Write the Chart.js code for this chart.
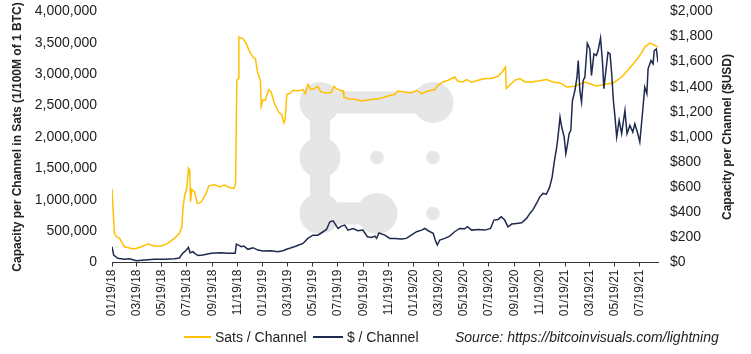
<!DOCTYPE html>
<html>
<head>
<meta charset="utf-8">
<script src="https://cdn.jsdelivr.net/npm/chart.js@4.4.0/dist/chart.umd.min.js"></script>
<style>
  html, body { margin: 0; padding: 0; background: #fff; }
  #wrap { position: relative; width: 751px; height: 354px; font-family: 'Liberation Sans', Arial, sans-serif; color: #222; overflow: hidden; }
  #chart { position: absolute; left: 0; top: 0; }
  .ytitle { position: absolute; width: 400px; height: 14px; line-height: 14px; font-size: 12px; font-weight: bold; text-align: center; white-space: nowrap; transform: rotate(-90deg); }
  .leg { position: absolute; top: 329px; height: 16px; line-height: 16px; font-size: 14px; white-space: nowrap; }
  .swatch { display: inline-block; vertical-align: middle; height: 2px; margin-top: -2px; }
</style>
</head>
<body>
<div id="wrap">
  <canvas id="chart" width="751" height="354"></canvas>
  <div class="ytitle" style="left:-183px; top:130px;">Capacity per Channel in Sats (1/100M of 1 BTC)</div>
  <div class="ytitle" style="left:527px; top:130px;">Capacity per Channel ($USD)</div>
  <div class="leg" style="left:184px;"><span class="swatch" style="width:27px; background:#FFC000;"></span> Sats / Channel</div>
  <div class="leg" style="left:313px;"><span class="swatch" style="width:30px; background:#1E2A4E;"></span> $ / Channel</div>
  <div class="leg" style="left:455px; font-style:italic;">Source: https://bitcoinvisuals.com/lightning</div>
</div>
<script>
// ── DATA ──────────────────────────────────
// x = days since 01/19/18
const tickLabels = ['01/19/18', '03/19/18', '05/19/18', '07/19/18', '09/19/18', '11/19/18',
  '01/19/19', '03/19/19', '05/19/19', '07/19/19', '09/19/19', '11/19/19',
  '01/19/20', '03/19/20', '05/19/20', '07/19/20', '09/19/20', '11/19/20',
  '01/19/21', '03/19/21', '05/19/21', '07/19/21'];

const satsDays = [0, 4, 6, 10, 18, 30, 42, 54, 71, 87, 103, 119, 135, 151, 163, 169, 172, 176, 181, 185,
  188, 190, 193, 200, 206, 212, 216, 228, 234, 248, 260, 272, 285, 295, 299, 302, 305, 307, 317, 325,
  333, 341, 347, 352, 359, 361, 365, 371, 379, 385, 393, 403, 411, 416, 419, 423, 430, 438, 450, 462,
  468, 474, 481, 490, 498, 505, 519, 531, 537, 543, 551, 559, 561, 575, 591, 603, 615, 628, 648, 660,
  684, 692, 708, 724, 737, 749, 765, 781, 789, 801, 813, 829, 837, 849, 858, 870, 886, 902, 918, 934,
  944, 952, 954, 962, 975, 987, 999, 1015, 1031, 1051, 1067, 1084, 1100, 1120, 1144, 1160, 1172, 1193, 1213, 1233,
  1249, 1265, 1280, 1289, 1301, 1314, 1320];
const satsValues = [1170000, 676000, 470000, 410000, 390000, 250000, 230000, 215000, 250000, 295000,
  262000, 262000, 305000, 385000, 465000, 570000, 890000, 1075000, 1180000, 1500000,
  1470000, 967000, 1165000, 1120000, 942000, 950000, 967000, 1100000, 1217000, 1243000,
  1205000, 1232000, 1190000, 1180000, 1260000, 2903000, 2930000, 3592000, 3566000, 3486000,
  3353000, 3273000, 3248000, 3035000, 2903000, 2489000, 2585000, 2585000, 2755000, 2717000,
  2532000, 2399000, 2346000, 2224000, 2280000, 2680000, 2691000, 2744000, 2733000, 2755000,
  2691000, 2839000, 2755000, 2770000, 2807000, 2717000, 2701000, 2712000, 2807000, 2770000,
  2744000, 2733000, 2628000, 2605000, 2596000, 2573000, 2585000, 2596000, 2611000, 2637000,
  2680000, 2733000, 2717000, 2701000, 2744000, 2691000, 2733000, 2755000, 2823000, 2876000,
  2903000, 2955000, 2887000, 2876000, 2914000, 2871000, 2903000, 2930000, 2930000, 2966000,
  3035000, 3114000, 2770000, 2823000, 2903000, 2930000, 2876000, 2876000, 2892000, 2914000,
  2876000, 2860000, 2796000, 2807000, 2876000, 2839000, 2812000, 2839000, 2860000, 2955000,
  3072000, 3193000, 3327000, 3432000, 3496000, 3459000, 3432000];

const usdDays = [0, 4, 14, 30, 42, 59, 79, 103, 127, 151, 163, 171, 180, 185, 189, 196, 200, 208, 220, 240,
  264, 280, 298, 301, 306, 313, 319, 329, 341, 353, 365, 385, 401, 414, 422, 430, 446, 462, 474, 486,
  498, 507, 519, 527, 535, 540, 547, 555, 563, 571, 583, 595, 607, 618, 628, 636, 640, 646, 660, 672,
  684, 700, 712, 724, 737, 749, 757, 765, 777, 782, 787, 793, 805, 817, 829, 841, 853, 860, 870, 886,
  902, 916, 924, 934, 942, 950, 958, 967, 979, 991, 1003, 1011, 1019, 1027, 1035, 1043, 1051, 1059, 1065, 1070,
  1076, 1079, 1084, 1088, 1094, 1098, 1101, 1106, 1110, 1114, 1120, 1125, 1128, 1132, 1136, 1140, 1144, 1150, 1156, 1160,
  1166, 1172, 1176, 1182, 1187, 1190, 1195, 1200, 1205, 1209, 1213, 1217, 1221, 1227, 1233, 1241, 1246, 1253, 1260, 1265,
  1271, 1277, 1284, 1289, 1294, 1297, 1304, 1309, 1312, 1317, 1321];
const usdValues = [126, 60, 33, 25, 30, 14, 20, 25, 25, 30, 36, 73, 99, 121, 78, 86, 73, 55, 60, 73,
  78, 73, 73, 147, 139, 126, 131, 105, 118, 99, 91, 94, 86, 94, 105, 113, 131, 152, 192, 218,
  218, 237, 263, 324, 332, 306, 271, 290, 298, 258, 271, 253, 258, 205, 200, 210, 192, 235, 218, 192,
  192, 187, 192, 218, 245, 258, 271, 253, 232, 179, 139, 179, 192, 210, 245, 271, 268, 285, 258, 263,
  258, 271, 338, 343, 364, 338, 284, 306, 311, 316, 351, 391, 423, 470, 523, 550, 544, 602, 682, 801,
  920, 999, 1158, 1079, 999, 867, 920, 1026, 1052, 1290, 1370, 1476, 1608, 1370, 1277, 1450, 1476, 1746, 1701, 1489,
  1662, 1648, 1688, 1789, 1582, 1384, 1529, 1674, 1662, 1503, 1290, 1158, 999, 1132, 1026, 1211, 1026, 1092, 1039, 1105,
  1039, 960, 1211, 1397, 1344, 1543, 1609, 1582, 1688, 1701, 1595];

const satsColor = '#FFC000';
const usdColor = '#1E2A4E';
const textColor = '#222';
const fontFamily = "'Liberation Sans', Arial, sans-serif";

// ── HELPERS ───────────────────────────────
const dayZero = Date.UTC(2018, 0, 19);
function labelToDay(label) {
  const [m, d, y] = label.split('/').map(Number);
  return Math.round((Date.UTC(2000 + y, m - 1, d) - dayZero) / 86400000);
}
const tickDays = tickLabels.map(labelToDay);

function toPoints(days, values) {
  return days.map((d, i) => ({ x: d, y: values[i] }));
}

// grey logo behind the lines
const watermark = {
  id: 'watermark',
  beforeDatasetsDraw(chart) {
    const { ctx, chartArea: a } = chart;
    const L = a.left, T = a.top;
    ctx.save();
    ctx.fillStyle = '#e6e6e6';
    const big = [[208, 91], [321, 91], [208, 146], [208, 202], [265, 202]];
    big.forEach(([x, y]) => { ctx.beginPath(); ctx.arc(L + x, T + y, 20.5, 0, Math.PI * 2); ctx.fill(); });
    ctx.fillRect(L + 208, T + 80, 113, 22);
    ctx.fillRect(L + 198, T + 91, 20, 111);
    ctx.fillRect(L + 208, T + 191, 57, 22);
    [[265, 146], [321, 146], [321, 202]].forEach(([x, y]) => {
      ctx.beginPath(); ctx.arc(L + x, T + y, 6.7, 0, Math.PI * 2); ctx.fill();
    });
    ctx.restore();
  }
};

// ── CHART ─────────────────────────────────
new Chart(document.getElementById('chart'), {
  type: 'line',
  data: {
    datasets: [
      {
        label: '$ / Channel',
        data: toPoints(usdDays, usdValues),
        borderColor: usdColor,
        yAxisID: 'yUsd',
      },
      {
        label: 'Sats / Channel',
        data: toPoints(satsDays, satsValues),
        borderColor: satsColor,
        yAxisID: 'ySats',
      }
    ]
  },
  options: {
    responsive: false,
    animation: false,
    layout: { padding: 0 },
    elements: {
      point: { radius: 0 },
      line: { borderWidth: 1.5, tension: 0 }
    },
    plugins: {
      legend: { display: false },
      tooltip: { enabled: false }
    },
    scales: {
      x: {
        type: 'linear',
        min: 0,
        max: 1321,
        afterBuildTicks: (s) => { s.ticks = tickDays.map(v => ({ value: v })); },
        afterFit: (s) => { s.height = 91.5; },
        ticks: {
          autoSkip: false,
          minRotation: 90,
          maxRotation: 90,
          padding: 3,
          color: textColor,
          font: { family: fontFamily, size: 12 },
          callback: (v) => tickLabels[tickDays.indexOf(v)] || ''
        },
        grid: { display: true, drawOnChartArea: false, drawTicks: true, tickLength: 4, color: '#333' },
        border: { display: true, color: '#333', width: 1 }
      },
      ySats: {
        position: 'left',
        min: 0,
        max: 4000000,
        afterFit: (s) => { s.width = 112; },
        ticks: {
          stepSize: 500000,
          padding: 3,
          color: textColor,
          font: { family: fontFamily, size: 14 },
          callback: (v) => v.toLocaleString('en-US')
        },
        // hidden tick marks only push the labels away from the plot
        grid: { display: false, drawTicks: true, tickLength: 12 },
        border: { display: false }
      },
      yUsd: {
        position: 'right',
        min: 0,
        max: 2000,
        afterFit: (s) => { s.width = 93; },
        ticks: {
          stepSize: 200,
          padding: 3,
          color: textColor,
          font: { family: fontFamily, size: 14 },
          callback: (v) => '$' + v.toLocaleString('en-US')
        },
        grid: { display: false, drawTicks: true, tickLength: 9 },
        border: { display: false }
      }
    }
  },
  plugins: [watermark]
});
</script>
</body>
</html>
